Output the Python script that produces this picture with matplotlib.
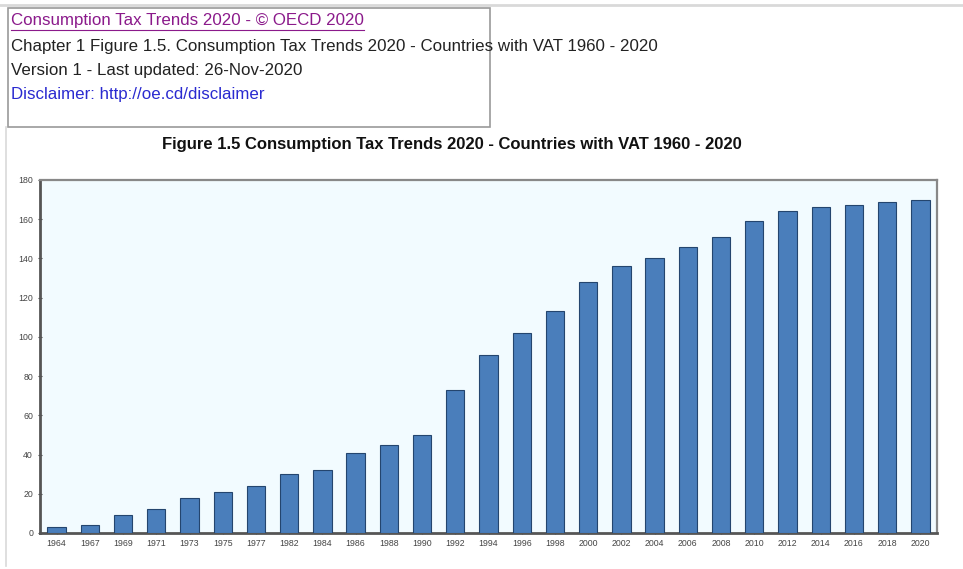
import matplotlib

matplotlib.use("Agg")
import matplotlib.pyplot as plt
from matplotlib.lines import Line2D
from matplotlib.patches import Rectangle

plt.rcParams["font.family"] = ["Liberation Sans", "DejaVu Sans"]

# Data
years = ["1964", "1967", "1969", "1971", "1973", "1975", "1977", "1982", "1984",
         "1986", "1988", "1990", "1992", "1994", "1996", "1998", "2000", "2002",
         "2004", "2006", "2008", "2010", "2012", "2014", "2016", "2018", "2020"]
countries = [3, 4, 9, 12, 18, 21, 24, 30, 32,
             41, 45, 50, 73, 91, 102, 113, 128, 136,
             140, 146, 151, 159, 164, 166, 167, 169, 170]
y_ticks = list(range(0, 181, 20))

W, H = 963, 569
fig = plt.figure(figsize=(W / 100, H / 100), dpi=100)
fig.patch.set_facecolor("white")


def fx(px):
    return px / W


def fy(py):
    return 1 - py / H


# faint outer frame of the original sheet
fig.add_artist(Line2D([0, 1], [fy(5), fy(5)], color="#d9d9d9", lw=2))
fig.add_artist(Line2D([fx(6), fx(6)], [fy(127), fy(566)], color="#d9d9d9", lw=1.2))

# header box
fig.add_artist(Rectangle((fx(8), fy(127)), fx(490) - fx(8), fy(8) - fy(127),
                         fill=False, edgecolor="#9a9a9a", lw=1.2))
link = fig.text(fx(11), fy(21), "Consumption Tax Trends 2020 - © OECD 2020",
                color="#8b1a8b", fontsize=12.2, va="center")
fig.text(fx(11), fy(46),
         "Chapter 1 Figure 1.5. Consumption Tax Trends 2020 - Countries with VAT 1960 - 2020",
         color="#222222", fontsize=12.2, va="center")
fig.text(fx(11), fy(70), "Version 1 - Last updated: 26-Nov-2020",
         color="#222222", fontsize=12.2, va="center")
fig.text(fx(11), fy(95), "Disclaimer: http://oe.cd/disclaimer",
         color="#2a2ad0", fontsize=12.2, va="center")

# underline the link text to its rendered width
bb = link.get_window_extent(renderer=fig.canvas.get_renderer())
fig.add_artist(Line2D([fx(bb.x0), fx(bb.x1)], [fy(30), fy(30)], color="#8b1a8b", lw=0.8))

fig.text(fx(452), fy(145),
         "Figure 1.5 Consumption Tax Trends 2020 - Countries with VAT 1960 - 2020",
         fontsize=12, fontweight="bold", ha="center", va="center", color="#111111")

ax = fig.add_axes([fx(40), fy(533), fx(937) - fx(40), fy(180) - fy(533)])
ax.set_facecolor("#f2fbff")
x = range(len(years))
ax.bar(x, countries, width=0.55, color="#4a7ebb", edgecolor="#24456e", linewidth=0.8,
       zorder=3)
ax.set_xlim(-0.5, len(years) - 0.5)
ax.set_ylim(0, 180)
ax.set_yticks(y_ticks)
ax.set_xticks(list(x))
ax.set_xticklabels(years)
ax.tick_params(axis="both", labelsize=6.3, colors="#444444", length=3, width=0.8,
               direction="inout")
ax.tick_params(axis="x", length=2)
for side in ["left", "bottom"]:
    ax.spines[side].set_color("#555555")
    ax.spines[side].set_linewidth(2)
for side in ["top", "right"]:
    ax.spines[side].set_color("#888888")
    ax.spines[side].set_linewidth(1.6)

fig.savefig("out.png", dpi=100)
